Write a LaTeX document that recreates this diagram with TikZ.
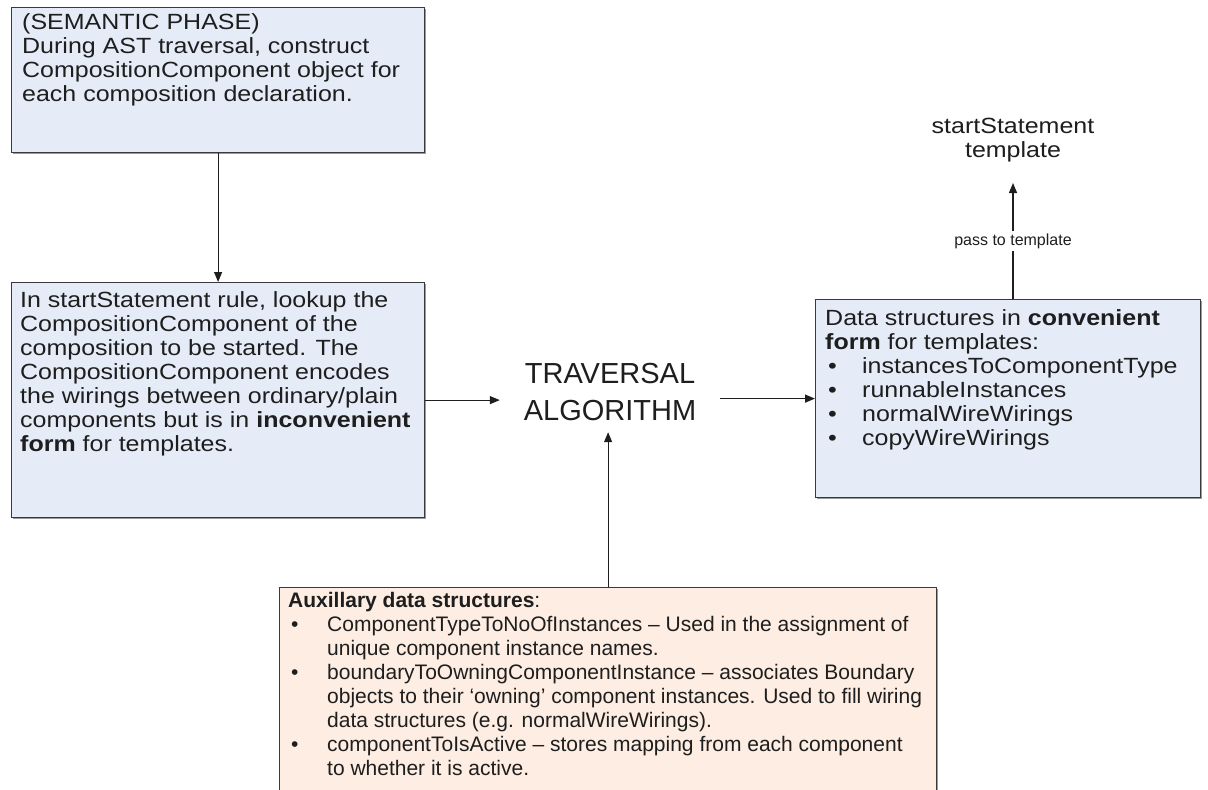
\documentclass[tikz,border=0pt]{standalone}
\usepackage{fontspec}
\setmainfont{Liberation Sans}
% wide face used for the panel texts
\newfontfamily\widesans{Liberation Sans}[FakeStretch=1.136]
\usetikzlibrary{arrows.meta,shadows}

\definecolor{boxblue}{HTML}{E6ECF7}
\definecolor{boxpeach}{HTML}{FDEDE2}
\definecolor{edgegray}{HTML}{3A3A3A}
\definecolor{ink}{HTML}{1E1E1E}

% bullet set in a fixed-width slot, then the item text
\newcommand\bulletslot[1]{\makebox[#1][l]{\hspace{3pt}\textbullet}}

\begin{document}
\begin{tikzpicture}[x=1pt,y=-1pt,
  panel/.style={draw=edgegray, line width=1.2pt, inner sep=0pt, anchor=north west,
    drop shadow={shadow xshift=1.5pt, shadow yshift=-1.5pt, fill=black!40, opacity=1}},
  paneltext/.style={anchor=north west, inner sep=0pt, align=left, text=ink,
    font=\widesans\fontsize{22}{24}\selectfont},
  auxtext/.style={anchor=north west, inner sep=0pt, align=left, text=ink,
    font=\fontsize{21}{24}\selectfont},
  arr/.style={-{Triangle[length=10pt,width=8pt]}, line width=1.2pt, draw=ink},
]
\useasboundingbox (0,0) rectangle (1208,790);
\clip (0,0) rectangle (1208,790);
\fill[white] (0,0) rectangle (1208,790);

% --- panels ---
\node[panel, fill=boxblue, minimum width=413pt, minimum height=145pt] (b1) at (11,7) {};
\node[panel, fill=boxblue, minimum width=413pt, minimum height=235pt] (b2) at (11,282) {};
\node[panel, fill=boxblue, minimum width=385pt, minimum height=198pt] (b3) at (815,299) {};
\node[panel, fill=boxpeach, minimum width=657pt, minimum height=230pt] (aux) at (279,587) {};

% --- panel texts (first baseline sits 17pt below the node top) ---
\node[paneltext] (t1) at (22,12) {\rule{0pt}{17pt}(SEMANTIC PHASE)\\
  During AST traversal, construct\\
  CompositionComponent object for\\
  each composition declaration.};

\node[paneltext] (t2) at (20,290) {\rule{0pt}{17pt}In startStatement rule, lookup the\\
  CompositionComponent of the\\
  composition to be started. The\\
  CompositionComponent encodes\\
  the wirings between ordinary/plain\\
  components but is in \textbf{inconvenient}\\
  \textbf{form} for templates.};

\node[paneltext] (t3) at (825,308) {\rule{0pt}{17pt}Data structures in \textbf{convenient}\\
  \textbf{form} for templates:\\
  \bulletslot{37pt}instancesToComponentType\\
  \bulletslot{37pt}runnableInstances\\
  \bulletslot{37pt}normalWireWirings\\
  \bulletslot{37pt}copyWireWirings};

\node[auxtext] (t4) at (288,590) {\rule{0pt}{17pt}\textbf{Auxillary data structures}:\\
  \bulletslot{39pt}ComponentTypeToNoOfInstances – Used in the assignment of\\
  \hspace*{39pt}unique component instance names.\\
  \bulletslot{39pt}boundaryToOwningComponentInstance – associates Boundary\\
  \hspace*{39pt}objects to their ‘owning’ component instances. Used to fill wiring\\
  \hspace*{39pt}data structures (e.g. normalWireWirings).\\
  \bulletslot{39pt}componentToIsActive – stores mapping from each component\\
  \hspace*{39pt}to whether it is active.};

% --- free-standing labels ---
\node[inner sep=0pt, minimum width=220pt, minimum height=80pt, align=center, text=ink,
  font=\fontsize{29}{37}\selectfont] (trav) at (610,392) {TRAVERSAL\\ALGORITHM};
\node[anchor=south, inner xsep=0pt, inner ysep=21pt, align=center, text=ink,
  font=\widesans\fontsize{22}{24}\selectfont] (tmpl) at (1013,183) {startStatement\\template};

% --- connectors ---
\draw[arr] (b1.south) -- (b2.north);
\draw[arr] (b2.east) -- (b2.east -| trav.west);
\draw[arr] (trav.east |- b3.west) -- (b3.west);
\draw[arr] (aux.north) -- (aux.north |- trav.south);
\draw[arr] (b3.north -| tmpl.south) -- (tmpl.south)
  node[midway, fill=white, inner xsep=1pt, inner ysep=3pt, text=ink,
    font=\fontsize{16}{18}\selectfont] (passlbl) {pass to template};
\end{tikzpicture}
\end{document}
